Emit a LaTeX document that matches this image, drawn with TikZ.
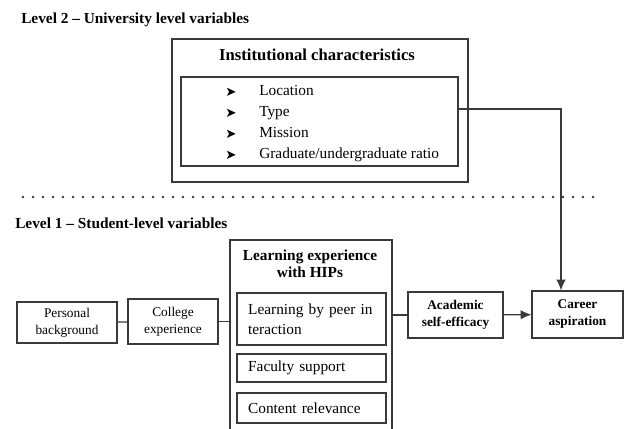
\documentclass[tikz,border=0pt]{standalone}
\usepackage{fontspec}
\setmainfont{Liberation Serif}
\newfontfamily\dingfont{DejaVu Sans}
\usetikzlibrary{arrows.meta,fit,positioning}
\definecolor{linegray}{HTML}{3a3a3a}

\begin{document}
\begin{tikzpicture}[x=0.75pt,y=-0.75pt,
		box/.style={draw=linegray,line width=0.9pt,inner sep=0pt,align=center},
		link/.style={draw=linegray,line width=0.9pt},
		arrow/.style={link,-{Latex[length=8pt,width=7pt]}},
		leveltext/.style={inner sep=0pt,anchor=west,font=\fontsize{11.5}{13}\selectfont\bfseries},
		smalltext/.style={font=\fontsize{10}{12.75}\selectfont},
		boldtext/.style={font=\fontsize{10}{12.75}\selectfont\bfseries},
		hiptext/.style={text width=95pt,align=left,minimum width=111.75pt,font=\fontsize{11.5}{15}\selectfont}]
		\useasboundingbox (0,0) rectangle (626,429);
		% level 2
		\node[leveltext] (level2) at (21,20) {Level 2 -- University level variables};
		\node[box,fit={(172,39) (468,182)}] (inst) {};
		\node[inner sep=0pt,font=\fontsize{12.5}{14}\selectfont\bfseries] (insttitle) at (317,55) {Institutional characteristics};
		\node[box,fit={(181,77) (458,166)}] (items) {};
		\foreach \entry [count=\i] in {Location,Type,Mission,Graduate/undergraduate ratio} {
			\node[inner sep=0pt,font=\dingfont\fontsize{10}{10}\selectfont] (bullet\i) at (231,71+21*\i) {➤};
			\node[inner sep=0pt,anchor=west,font=\fontsize{11.5}{13}\selectfont] (item\i) at (259,71+21*\i) {\strut\entry};
		}
		
		% divider
		\coordinate (dotsL) at (23,197);
		\coordinate (dotsR) at (597,197);
		\draw[linegray,line width=1.9pt,line cap=round,dash pattern=on 0pt off 7.5pt] (dotsL) -- (dotsR);
		
		% level 1
		\node[leveltext] (level1) at (15,223) {Level 1 -- Student-level variables};
		\node[box,smalltext,minimum width=75pt,minimum height=30.75pt] (personal) at (67,322.5) {Personal\\background};
		\node[box,smalltext,minimum width=67.5pt,minimum height=33.75pt] (college) at (173,321.5) {College\\experience};
		\node[box,fit={(230,240) (392,445)}] (hips) {};
		\node[inner sep=0pt,align=center,font=\fontsize{11.5}{12.5}\selectfont\bfseries] (hipstitle) at (310,264) {Learning experience\\with HIPs};
		\node[box,hiptext,minimum height=39pt] (peer) at (311.5,319) {Learning by peer in\\teraction};
		\node[box,hiptext,minimum height=21pt] (faculty) at (311.5,368) {Faculty support};
		\node[box,hiptext,minimum height=22.5pt] (content) at (311.5,408) {Content relevance};
		\node[box,boldtext,minimum width=71.25pt,minimum height=34.5pt] (academic) at (455.5,315) {Academic\\self-efficacy};
		\node[box,boldtext,minimum width=68.25pt,minimum height=35.25pt] (career) at (577.5,314.5) {Career\\aspiration};
		
		\draw[link] (personal) -- (college);
		\draw[link] (college.east) -- (college.east -| hips.west);
		\draw[link] (hips.east |- academic.west) -- (academic.west);
		\draw[arrow] (academic) -- (career);
		\coordinate (bend) at (561,109);
		\draw[arrow] (items.east |- bend) -- (bend) -- (career.north -| bend);
	\end{tikzpicture}
\end{document}
